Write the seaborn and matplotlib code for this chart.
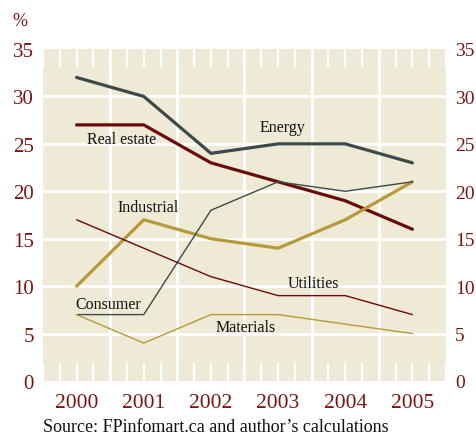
import numpy as np
import pandas as pd
import matplotlib
matplotlib.use("Agg")
import matplotlib.pyplot as plt
from matplotlib.ticker import MultipleLocator
import seaborn as sns

# ── data ─────────────────────────────────────────────
years = ["2000", "2001", "2002", "2003", "2004", "2005"]
energy      = [32, 30, 24, 25, 25, 23]
real_estate = [27, 27, 23, 21, 19, 16]
industrial  = [10, 17, 15, 14, 17, 21]
consumer    = [7, 7, 18, 21, 20, 21]
utilities   = [17, 14, 11, 9, 9, 7]
materials   = [7, 4, 7, 7, 6, 5]
y_ticks = [0, 5, 10, 15, 20, 25, 30, 35]

slate, maroon, gold = "#3C4A49", "#6B0A0A", "#B8993A"
label_red = "#7A1515"
series = {
    "Energy":      (energy, slate, 2.3),
    "Real estate": (real_estate, maroon, 2.3),
    "Industrial":  (industrial, gold, 2.3),
    "Consumer":    (consumer, slate, 1.0),
    "Utilities":   (utilities, maroon, 1.0),
    "Materials":   (materials, gold, 1.0),
}
rows = []
for name, (vals, _, _) in series.items():
    for i, v in enumerate(vals):
        rows.append({"sector": name, "x": i, "pct": v})
df = pd.DataFrame(rows)

sns.set_style("white")
plt.rcParams["font.family"] = ["Liberation Serif", "DejaVu Serif"]

fig = plt.figure(figsize=(4.76, 4.35), dpi=100)
ax = fig.add_axes([43 / 476, 53 / 435, 403 / 476, 332 / 435])
ax.set_facecolor("#EEEAD6")

# white grid
for yv in y_ticks[1:-1]:
    ax.axhline(yv, color="white", lw=2, zorder=1)
for xv in np.arange(0.5, 5, 1):
    ax.axvline(xv, color="white", lw=2, zorder=1)

for name, (vals, col, lw) in series.items():
    sns.lineplot(data=df[df["sector"] == name], x="x", y="pct", color=col,
                 lw=lw, ax=ax, zorder=3, legend=False)

ax.set_xlim(-0.5, 5.5)
ax.set_ylim(0, 35)
ax.set_xticks(range(len(years)))
ax.set_xticklabels(years)
ax.xaxis.set_minor_locator(MultipleLocator(0.25))
ax.set_yticks(y_ticks)
ax.set_xlabel("")
ax.set_ylabel("")
for s in ax.spines.values():
    s.set_visible(False)

ax.tick_params(axis="x", which="both", direction="in", top=True, bottom=True,
               length=13, width=1.6, color="white", pad=9,
               labelsize=15.5, labelcolor=label_red)
ax.tick_params(axis="y", left=False, right=False, labelleft=True,
               labelright=True, labelsize=15, labelcolor=label_red, pad=7)
# right-hand labels a bit closer so they stay inside the canvas
for t in ax.yaxis.get_major_ticks():
    t.label2.set_fontsize(14)
    t.set_pad(3)
for t in ax.get_xticklines() + ax.xaxis.get_minorticklines():
    t.set_zorder(2)

# series labels
txt = dict(fontsize=11.5, color="#111111", zorder=4)
ax.text(3.06, 26.8, "Energy", ha="center", va="center", **txt)
ax.text(0.16, 25.5, "Real estate", ha="left", va="center", **txt)
ax.text(1.06, 18.3, "Industrial", ha="center", va="center", **txt)
ax.text(-0.02, 8.1, "Consumer", ha="left", va="center", **txt)
ax.text(3.52, 10.3, "Utilities", ha="center", va="center", **txt)
ax.text(2.07, 5.7, "Materials", ha="left", va="center", **txt)

fig.text(12 / 476, 1 - 22 / 435, "%", fontsize=13, color=label_red,
         ha="left", va="center")
fig.text(43 / 476, 1 - 428 / 435, "Source: FPinfomart.ca and author\u2019s calculations",
         fontsize=13, color="#111111", ha="left", va="center")

fig.savefig("out.png", dpi=100)
